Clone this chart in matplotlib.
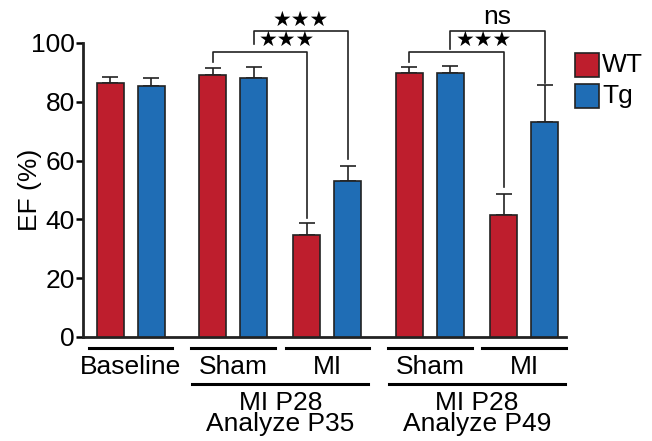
import matplotlib

matplotlib.use("Agg")
import matplotlib.pyplot as plt

plt.rcParams["font.family"] = ["Liberation Sans", "DejaVu Sans"]

RED = "#BE1E2D"
BLUE = "#1F6DB5"
EDGE = "#222222"
FS = 19

# bar data
x_pos = [0.0, 1.0, 2.5, 3.5, 4.8, 5.8, 7.3, 8.3, 9.6, 10.6]
ef_mean = [86.4, 85.4, 89.1, 88.1, 34.7, 53.1, 89.8, 89.8, 41.5, 73.1]
ef_err = [2.0, 2.7, 2.4, 3.7, 4.1, 5.1, 2.0, 2.4, 7.1, 12.6]
genotype = ["WT", "Tg"] * 5

group_labels = ["Baseline", "Sham", "MI", "Sham", "MI"]
time_labels = ["MI P28\nAnalyze P35", "MI P28\nAnalyze P49"]

fig = plt.figure(figsize=(6.52, 4.41), dpi=100)
ax = fig.add_axes([83 / 652, 1 - 337 / 441, (566 - 83) / 652, (337 - 43) / 441])

colors = [RED if g == "WT" else BLUE for g in genotype]
ax.bar(x_pos, ef_mean, width=0.66, color=colors, edgecolor=EDGE, linewidth=1.2, zorder=3)
ax.errorbar(x_pos, ef_mean, yerr=[[0] * len(ef_err), ef_err], fmt="none",
            ecolor=EDGE, elinewidth=1.2, capsize=6, capthick=1.2, zorder=2)

ax.set_xlim(-0.66, 11.12)
ax.set_ylim(0, 100)
ax.set_yticks([0, 20, 40, 60, 80, 100])
ax.tick_params(axis="y", labelsize=FS, width=1.8, length=5, pad=1)
ax.set_xticks([])
for side in ("top", "right"):
    ax.spines[side].set_visible(False)
for side in ("left", "bottom"):
    ax.spines[side].set_linewidth(2.0)
    ax.spines[side].set_color(EDGE)
ax.set_ylabel("EF (%)", fontsize=FS)
ax.yaxis.set_label_coords(-0.085, 0.5)


def bracket(x1, x2, y1, y2, top, label, tx, ha, fs, fam):
    ax.plot([x1, x1, x2, x2], [y1, top, top, y2], color=EDGE, lw=1.2, clip_on=False)
    ax.text(tx, top + 0.6, label, ha=ha, va="bottom", fontsize=fs, family=fam, clip_on=False)


stars = "★★★"
bracket(x_pos[2], x_pos[4], 93.5, 40.5, 96.9, stars, x_pos[3] + 0.12, "left", 15, ["DejaVu Sans"])
bracket(x_pos[3], x_pos[5], 99.5, 60.5, 104.0, stars, (x_pos[3] + x_pos[5]) / 2, "center", 15, ["DejaVu Sans"])
bracket(x_pos[6], x_pos[8], 93.5, 51.0, 96.9, stars, x_pos[7] + 0.12, "left", 15, ["DejaVu Sans"])
bracket(x_pos[7], x_pos[9], 98.0, 86.5, 104.0, "ns", (x_pos[7] + x_pos[9]) / 2, "center", FS, ["Liberation Sans"])

# group lines and labels under the axis
for i, lab in enumerate(group_labels):
    c = (x_pos[2 * i] + x_pos[2 * i + 1]) / 2
    ax.plot([c - 1.02, c + 1.02], [-3.7, -3.7], color="black", lw=2.2, clip_on=False)
    ax.text(c, -10.3, lab, ha="center", va="center", fontsize=FS)

for j, lab in enumerate(time_labels):
    left = (x_pos[2 + 4 * j] + x_pos[3 + 4 * j]) / 2 - 1.0
    right = (x_pos[4 + 4 * j] + x_pos[5 + 4 * j]) / 2 + 1.0
    ax.plot([left, right], [-16.0, -16.0], color="black", lw=2.2, clip_on=False)
    ax.text((left + right) / 2, -18.2, lab, ha="center", va="top", fontsize=FS, linespacing=0.88)

# legend squares
for k, (lab, col) in enumerate([("WT", RED), ("Tg", BLUE)]):
    y0 = 1 - (77 + 31 * k) / 441
    fig.patches.append(plt.Rectangle((575 / 652, y0), 24 / 652, 24 / 441, transform=fig.transFigure,
                                     facecolor=col, edgecolor=EDGE, linewidth=1.2))
    fig.text(602 / 652, y0 + 12 / 441, lab, ha="left", va="center", fontsize=FS)

fig.savefig("out.png", dpi=100)
